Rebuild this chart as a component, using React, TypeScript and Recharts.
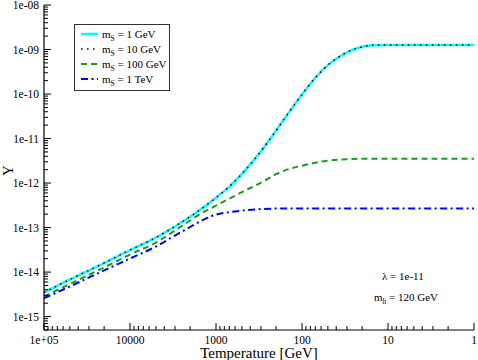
import React from 'react';
import { LineChart, Line, XAxis, YAxis } from 'recharts';

const FONT = '"Liberation Serif", "Times New Roman", serif';

// temperature grid [GeV], high T first (left side of the reversed axis)
const temperatures = [100000, 50000, 20000, 10000, 5000, 3000, 2000, 1500, 1000, 700, 500, 300, 200, 150, 100, 70, 50, 30, 20, 15, 10, 5, 2, 1];

const yMs1GeV = [3.49e-15, 6.82e-15, 1.6e-14, 3.13e-14, 5.97e-14, 1.06e-13, 1.75e-13, 2.59e-13, 4.7e-13, 8.34e-13, 1.61e-12, 5.2e-12, 1.52e-11, 3.36e-11, 9.8e-11, 2.32e-10, 4.47e-10, 8.67e-10, 1.15e-9, 1.25e-9, 1.27e-9, 1.27e-9, 1.27e-9, 1.27e-9];
const yMs10GeV = [3.49e-15, 6.82e-15, 1.6e-14, 3.13e-14, 5.97e-14, 1.06e-13, 1.75e-13, 2.59e-13, 4.7e-13, 8.34e-13, 1.61e-12, 5.2e-12, 1.52e-11, 3.36e-11, 9.8e-11, 2.32e-10, 4.47e-10, 8.67e-10, 1.15e-9, 1.25e-9, 1.27e-9, 1.27e-9, 1.27e-9, 1.27e-9];
const yMs100GeV = [2.84e-15, 5.41e-15, 1.27e-14, 2.48e-14, 4.61e-14, 8.57e-14, 1.44e-13, 2.06e-13, 3.11e-13, 4.47e-13, 6.25e-13, 1.02e-12, 1.58e-12, 2.0e-12, 2.45e-12, 2.86e-12, 3.18e-12, 3.44e-12, 3.52e-12, 3.52e-12, 3.52e-12, 3.52e-12, 3.52e-12, 3.52e-12];
const yMs1TeV = [2.57e-15, 4.75e-15, 1.09e-14, 2.02e-14, 3.75e-14, 6.62e-14, 1.03e-13, 1.4e-13, 1.96e-13, 2.23e-13, 2.4e-13, 2.6e-13, 2.67e-13, 2.67e-13, 2.67e-13, 2.67e-13, 2.67e-13, 2.67e-13, 2.67e-13, 2.67e-13, 2.67e-13, 2.67e-13, 2.67e-13, 2.67e-13];

const xMajorTicks = [100000, 10000, 1000, 100, 10, 1];
const xMajorLabels = ['1e+05', '10000', '1000', '100', '10', '1'];
const yMajorTicks = [1e-8, 1e-9, 1e-10, 1e-11, 1e-12, 1e-13, 1e-14, 1e-15];
const yMajorLabels = ['1e-08', '1e-09', '1e-10', '1e-11', '1e-12', '1e-13', '1e-14', '1e-15'];

const legendItems = [
  { key: 'ms1', mass: '1 GeV', color: '#00ffff', width: 2.5, dash: undefined },
  { key: 'ms10', mass: '10 GeV', color: '#000000', width: 1.5, dash: '1.5 4.5' },
  { key: 'ms100', mass: '100 GeV', color: '#1f9a1f', width: 2, dash: '6 4' },
  { key: 'ms1000', mass: '1 TeV', color: '#0000ff', width: 2, dash: '7 3.5 2 3.5' },
];

const X_DOMAIN = [1, 100000];
const Y_DOMAIN = [5e-16, 1e-8];

const data = temperatures.map((T, i) => ({
  T,
  ms1: yMs1GeV[i],
  ms10: yMs10GeV[i],
  ms100: yMs100GeV[i],
  ms1000: yMs1TeV[i],
}));

function logTicks(min: number, max: number) {
  const out: number[] = [];
  for (let e = Math.floor(Math.log10(min)); e <= Math.ceil(Math.log10(max)); e++) {
    for (let m = 1; m < 10; m++) {
      const v = m * Math.pow(10, e);
      if (v >= min * 0.999 && v <= max * 1.001) out.push(v);
    }
  }
  return out;
}

const xTicks = logTicks(X_DOMAIN[0], X_DOMAIN[1]);
const yTicks = logTicks(Y_DOMAIN[0], Y_DOMAIN[1]);

function majorLabel(v: number, majors: number[], labels: string[]) {
  const i = majors.findIndex((m) => Math.abs(v / m - 1) < 1e-6);
  return i >= 0 ? labels[i] : null;
}

const makeTick = (side: 'bottom' | 'top' | 'left' | 'right') => (props: any) => {
  const { x, y, payload } = props;
  const v = payload.value;
  const isX = side === 'bottom' || side === 'top';
  const label = isX ? majorLabel(v, xMajorTicks, xMajorLabels) : majorLabel(v, yMajorTicks, yMajorLabels);
  const len = label ? 7 : 4;
  let line;
  if (side === 'bottom') line = <line x1={x} y1={y} x2={x} y2={y - len} stroke="#000" />;
  else if (side === 'top') line = <line x1={x} y1={y} x2={x} y2={y + len} stroke="#000" />;
  else if (side === 'left') line = <line x1={x} y1={y} x2={x + len} y2={y} stroke="#000" />;
  else line = <line x1={x} y1={y} x2={x - len} y2={y} stroke="#000" />;
  let text = null;
  if (label && side === 'bottom') {
    text = <text x={x} y={y + 14} textAnchor="middle" fontSize={11.5} fontFamily={FONT} fill="#000">{label}</text>;
  } else if (label && side === 'left') {
    text = <text x={x - 5} y={y + 4} textAnchor="end" fontSize={11.5} fontFamily={FONT} fill="#000">{label}</text>;
  }
  return <g>{line}{text}</g>;
};

const XTitle = (props: any) => {
  const { viewBox } = props;
  return (
    <text x={viewBox.x + viewBox.width / 2} y={viewBox.y + viewBox.height - 2} textAnchor="middle" fontSize={15} fontFamily={FONT} fill="#000">
      Temperature [GeV]
    </text>
  );
};

const YTitle = (props: any) => {
  const { viewBox } = props;
  const cx = viewBox.x + 13;
  const cy = viewBox.y + viewBox.height / 2 + 3;
  return (
    <text x={cx} y={cy} transform={`rotate(-90 ${cx} ${cy})`} textAnchor="middle" fontSize={15} fontFamily={FONT} fill="#000">
      Y
    </text>
  );
};

function LegendBox() {
  return (
    <div style={{ position: 'absolute', left: 74, top: 24, width: 94, height: 65, border: '1px solid #333', background: '#fff', fontFamily: FONT, fontSize: 11 }}>
      {legendItems.map((it, i) => (
        <div key={it.key} style={{ position: 'absolute', left: 0, top: 2 + i * 15, height: 15, width: 94 }}>
          <svg width={20} height={15} style={{ position: 'absolute', left: 5, top: 0 }}>
            <line x1={1} y1={7} x2={18} y2={7} stroke={it.color} strokeWidth={it.width} strokeDasharray={it.dash} />
          </svg>
          <span style={{ position: 'absolute', left: 27, top: 0, lineHeight: '14px', whiteSpace: 'nowrap' }}>
            m<sub style={{ fontSize: 7.5, verticalAlign: -3 }}>S</sub> = {it.mass}
          </span>
        </div>
      ))}
    </div>
  );
}

export default function App() {
  return (
    <div style={{ position: 'absolute', left: 0, top: 0, width: 478, height: 360, background: '#fff', fontFamily: FONT }}>
      <LineChart width={478} height={360} data={data} margin={{ top: 5, right: 4, left: 0, bottom: 0 }} style={{ fontFamily: FONT }}>
        <XAxis
          dataKey="T"
          type="number"
          scale="log"
          domain={X_DOMAIN}
          allowDataOverflow
          reversed
          ticks={xTicks}
          interval={0}
          height={30}
          tickLine={false}
          tickSize={0}
          tickMargin={0}
          axisLine={{ stroke: '#000', strokeWidth: 1.2 }}
          tick={makeTick('bottom')}
          label={<XTitle />}
        />
        <XAxis
          xAxisId="top"
          orientation="top"
          dataKey="T"
          type="number"
          scale="log"
          domain={X_DOMAIN}
          allowDataOverflow
          reversed
          ticks={xTicks}
          interval={0}
          height={0}
          tickLine={false}
          tickSize={0}
          tickMargin={0}
          axisLine={{ stroke: '#000', strokeWidth: 1.2 }}
          tick={makeTick('top')}
        />
        <YAxis
          type="number"
          scale="log"
          domain={Y_DOMAIN}
          allowDataOverflow
          ticks={yTicks}
          interval={0}
          width={44}
          tickLine={false}
          tickSize={0}
          tickMargin={0}
          axisLine={{ stroke: '#000', strokeWidth: 1.2 }}
          tick={makeTick('left')}
          label={<YTitle />}
        />
        <YAxis
          yAxisId="right"
          orientation="right"
          type="number"
          scale="log"
          domain={Y_DOMAIN}
          allowDataOverflow
          ticks={yTicks}
          interval={0}
          width={0}
          tickLine={false}
          tickSize={0}
          tickMargin={0}
          axisLine={{ stroke: '#000', strokeWidth: 1.2 }}
          tick={makeTick('right')}
        />
        <Line xAxisId="top" yAxisId="right" dataKey="ms1" stroke="none" dot={false} isAnimationActive={false} />
        {legendItems.map((it) => (
          <Line
            key={it.key}
            type="monotone"
            dataKey={it.key}
            stroke={it.color}
            strokeWidth={it.width}
            strokeDasharray={it.dash}
            dot={false}
            isAnimationActive={false}
          />
        ))}
      </LineChart>
      <LegendBox />
      <div style={{ position: 'absolute', left: 382, top: 269, fontSize: 11, lineHeight: '14px', whiteSpace: 'nowrap' }}>λ = 1e-11</div>
      <div style={{ position: 'absolute', left: 374, top: 290, fontSize: 11, lineHeight: '14px', whiteSpace: 'nowrap' }}>
        m<sub style={{ fontSize: 7.5, verticalAlign: -3 }}>h</sub> = 120 GeV
      </div>
    </div>
  );
}
